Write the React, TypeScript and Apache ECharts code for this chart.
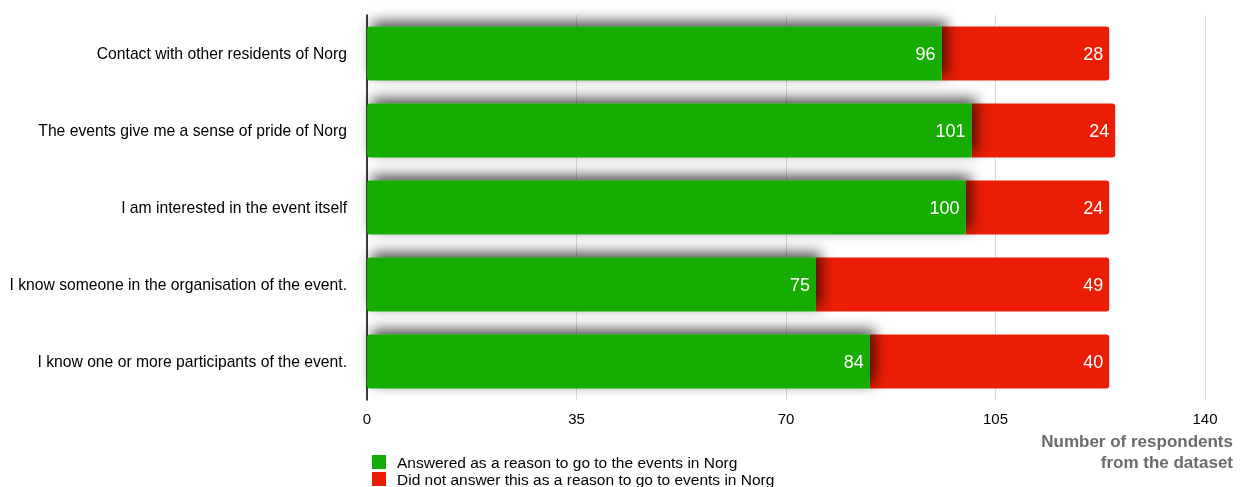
import React, { useEffect, useRef } from "react";
import * as echarts from "echarts";

const categories = [
  "Contact with other residents of Norg",
  "The events give me a sense of pride of Norg",
  "I am interested in the event itself",
  "I know someone in the organisation of the event.",
  "I know one or more participants of the event.",
];
const answered = [96, 101, 100, 75, 84];
const notAnswered = [28, 24, 24, 49, 40];
const xTicks = [0, 35, 70, 105, 140];
const seriesNames = [
  "Answered as a reason to go to the events in Norg",
  "Did not answer this as a reason to go to events in Norg",
];
const axisTitle = "Number of respondents\nfrom the dataset";

const FONT = "'Liberation Sans', Arial, Helvetica, sans-serif";

export default function App() {
  const ref = useRef<HTMLDivElement>(null);
  useEffect(() => {
    if (!ref.current) return;
    const chart = echarts.init(ref.current, undefined, { renderer: "svg" });
    const legendBase = {
      orient: "horizontal",
      left: 367,
      itemWidth: 14,
      itemHeight: 14,
      icon: "rect",
      textStyle: { color: "#000", fontSize: 15.5, fontFamily: FONT, padding: [0, 0, 0, 6] },
    };
    chart.setOption({
      animation: false,
      textStyle: { fontFamily: FONT },
      grid: { left: 367, right: 37, top: 15, bottom: 87, containLabel: false },
      xAxis: {
        type: "value",
        min: xTicks[0],
        max: xTicks[xTicks.length - 1],
        interval: 35,
        axisLine: { show: false },
        axisTick: { show: false },
        splitLine: { show: true, lineStyle: { color: "#d9d9d9", width: 1 } },
        axisLabel: { color: "#000", fontSize: 15, margin: 11, fontFamily: FONT },
      },
      yAxis: {
        type: "category",
        inverse: true,
        data: categories,
        axisLine: { show: true, lineStyle: { color: "#000", width: 1.5 } },
        axisTick: { show: false },
        axisLabel: { color: "#000", fontSize: 15.7, margin: 20, fontFamily: FONT },
      },
      legend: [
        { ...legendBase, top: 449, data: [seriesNames[0]] },
        { ...legendBase, top: 466, data: [seriesNames[1]] },
      ],
      graphic: [
        {
          type: "text",
          right: 9,
          top: 431,
          style: {
            text: axisTitle,
            fill: "#6b6b6b",
            font: `bold 17px ${FONT}`,
            textAlign: "right",
            lineHeight: 21,
          },
        },
      ],
      series: [
        {
          name: seriesNames[0],
          type: "bar",
          stack: "total",
          barWidth: "70%",
          data: answered,
          z: 3,
          itemStyle: {
            color: "#12AD06",
            borderRadius: [3, 0, 0, 3],
            shadowColor: "rgba(0,0,0,0.7)",
            shadowBlur: 14,
            shadowOffsetX: 5,
            shadowOffsetY: -5,
          },
          label: {
            show: true,
            position: "insideRight",
            color: "#fff",
            fontSize: 18,
            distance: 6,
            fontFamily: FONT,
          },
        },
        {
          name: seriesNames[1],
          type: "bar",
          stack: "total",
          barWidth: "70%",
          data: notAnswered,
          z: 2,
          itemStyle: {
            color: "#EB1E05",
            borderRadius: [0, 3, 3, 0],
          },
          label: {
            show: true,
            position: "insideRight",
            color: "#fff",
            fontSize: 18,
            distance: 6,
            fontFamily: FONT,
          },
        },
      ],
    });
    return () => chart.dispose();
  }, []);
  return (
    <div
      ref={ref}
      style={{ position: "fixed", left: 0, top: 0, width: 1242, height: 487 }}
    />
  );
}
